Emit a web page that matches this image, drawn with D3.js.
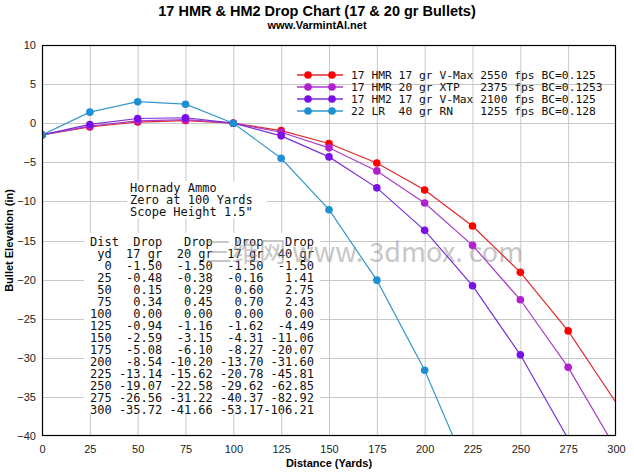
<!DOCTYPE html>
<html><head><meta charset="utf-8">
<script src="https://cdn.jsdelivr.net/npm/d3@7"></script>
<style>body{margin:0;background:#fff}svg{display:block}</style>
</head><body>
<script>
const distances = [0,25,50,75,100,125,150,175,200,225,250,275,300];
const hmr17 = [-1.50,-0.48,0.15,0.34,0.00,-0.94,-2.59,-5.08,-8.54,-13.14,-19.07,-26.56,-35.72];
const hmr20 = [-1.50,-0.38,0.29,0.45,0.00,-1.16,-3.15,-6.10,-10.20,-15.62,-22.58,-31.22,-41.66];
const hm2_17 = [-1.50,-0.16,0.60,0.70,0.00,-1.62,-4.31,-8.27,-13.70,-20.78,-29.62,-40.37,-53.17];
const lr22_40 = [-1.50,1.41,2.75,2.43,0.00,-4.49,-11.06,-20.07,-31.60,-45.81,-62.85,-82.92,-106.21];
const seriesNames = ["17 HMR 17 gr V-Max 2550 fps BC=0.125","17 HMR 20 gr XTP   2375 fps BC=0.1253","17 HM2 17 gr V-Max 2100 fps BC=0.125","22 LR  40 gr RN    1255 fps BC=0.128"];
const seriesColors = ["#ff0000","#b020d0","#7a10e8","#1f8fd4"];
const lineColors = ["#e02828","#a83cc8","#7a30d8","#3598cc"];
const xTicks = [0,25,50,75,100,125,150,175,200,225,250,275,300];
const yTicks = [10,5,0,-5,-10,-15,-20,-25,-30,-35,-40];
const notes = ["Hornady Ammo","Zero at 100 Yards","Scope Height 1.5\""];
const tableHeader = [["Dist","Drop","Drop","Drop","Drop"],["yd","17 gr","20 gr","17 gr","40 gr"]];

const W=634,H=475;
const m={l:42,r:18,t:45,b:39};
const svg=d3.select("body").append("svg").attr("width",W).attr("height",H);
const x=d3.scaleLinear().domain([0,300]).range([m.l,W-m.r]);
const y=d3.scaleLinear().domain([-40,10]).range([H-m.b,m.t]);

svg.append("defs").append("clipPath").attr("id","clip").append("rect")
  .attr("x",m.l).attr("y",m.t).attr("width",W-m.r-m.l).attr("height",H-m.b-m.t);

// grid
const g=svg.append("g");
g.selectAll(".vg").data(xTicks.slice(1,-1)).enter().append("line")
  .attr("x1",d=>x(d)+0.5).attr("x2",d=>x(d)+0.5).attr("y1",m.t).attr("y2",H-m.b)
  .attr("stroke","#c8c8c8").attr("stroke-width",1);
g.selectAll(".hg").data(yTicks.slice(1,-1)).enter().append("line")
  .attr("y1",d=>Math.round(y(d))+0.5).attr("y2",d=>Math.round(y(d))+0.5).attr("x1",m.l).attr("x2",W-m.r)
  .attr("stroke","#c8c8c8").attr("stroke-width",1);

// axes labels
const xa=svg.append("g").attr("transform",`translate(0,${H-m.b})`)
  .call(d3.axisBottom(x).tickValues(xTicks).tickSize(0).tickPadding(9));
xa.select(".domain").remove();
xa.selectAll("text").attr("font-family","Liberation Sans, Arial, sans-serif").attr("font-size",11).attr("fill","#222");
const ya=svg.append("g").attr("transform",`translate(${m.l},0)`)
  .call(d3.axisLeft(y).tickValues(yTicks).tickSize(0).tickPadding(6));
ya.select(".domain").remove();
ya.selectAll("text").attr("font-family","Liberation Sans, Arial, sans-serif").attr("font-size",11).attr("fill","#222");

// text boxes with white background
const mono="DejaVu Sans Mono, monospace";
const noteG=svg.append("g");
noteG.append("rect").attr("x",127).attr("y",181).attr("width",140).attr("height",37).attr("fill","#fff");
noteG.selectAll("text").data(notes).enter().append("text")
  .attr("x",130).attr("y",(d,i)=>192+i*12).attr("font-family",mono).attr("font-size",12)
  .attr("fill","#111").style("white-space","pre").text(d=>d);

const rows=tableHeader.map(r=>r[0].padStart(3)+(r[0].length>3?"  ":"   ").slice(0,0)+r.slice(1).map((c,i)=>c.padStart(i===0&&r[0].length>3?6:7)).join(""));
distances.forEach((d,i)=>{
  rows.push(String(d).padStart(3)+[hmr17[i],hmr20[i],hm2_17[i],lr22_40[i]].map(v=>v.toFixed(2).padStart(7)).join(""));
});
const tabG=svg.append("g");
tabG.append("rect").attr("x",84).attr("y",233).attr("width",236).attr("height",181).attr("fill","#fff");
tabG.selectAll("text").data(rows).enter().append("text")
  .attr("x",90).attr("y",(d,i)=>246+i*12).attr("font-family",mono).attr("font-size",12)
  .attr("fill","#111").attr("xml:space","preserve").style("white-space","pre").text(d=>d);

// watermark
svg.append("text").attr("x",205).attr("y",262).attr("font-family","Noto Sans CJK SC, serif")
  .attr("font-size",27).attr("fill","#999").attr("opacity",0.55).style("white-space","pre")
  .text("三维网 www. 3dmox. com");

// series
const allSeries=[hmr17,hmr20,hm2_17,lr22_40];
const plot=svg.append("g").attr("clip-path","url(#clip)");
const line=d3.line().x(d=>x(d[0])).y(d=>y(d[1]));
allSeries.forEach((s,k)=>{
  const pts=distances.map((d,i)=>[d,s[i]]);
  plot.append("path").datum(pts).attr("d",line).attr("fill","none")
    .attr("stroke",lineColors[k]).attr("stroke-width",1.2);
  plot.selectAll(".m"+k).data(pts.filter(p=>p[0]<300)).enter().append("circle")
    .attr("cx",p=>x(p[0])).attr("cy",p=>y(p[1])).attr("r",3.8).attr("fill",seriesColors[k]);
});

// frame
svg.append("rect").attr("x",m.l+0.5).attr("y",m.t+0.5).attr("width",W-m.r-m.l-1).attr("height",H-m.b-m.t-1)
  .attr("fill","none").attr("stroke","#000").attr("stroke-width",1.2);

// legend
const lg=svg.append("g");
seriesNames.forEach((n,k)=>{
  const yy=75+k*12;
  lg.append("line").attr("x1",297).attr("x2",343).attr("y1",yy).attr("y2",yy).attr("stroke",lineColors[k]).attr("stroke-width",1.4);
  [308,332].forEach(cx=>lg.append("circle").attr("cx",cx).attr("cy",yy).attr("r",3.8).attr("fill",seriesColors[k]));
  lg.append("text").attr("x",351).attr("y",yy+4).attr("font-family",mono).attr("font-size",11.3)
    .attr("fill","#111").style("white-space","pre").text(n);
});

// titles
svg.append("text").attr("x",317).attr("y",16).attr("text-anchor","middle")
  .attr("font-family","Liberation Sans, Arial, sans-serif").attr("font-weight","bold").attr("font-size",14.5)
  .text("17 HMR & HM2 Drop Chart (17 & 20 gr Bullets)");
svg.append("text").attr("x",317).attr("y",29).attr("text-anchor","middle")
  .attr("font-family","Liberation Sans, Arial, sans-serif").attr("font-weight","bold").attr("font-size",11)
  .text("www.VarmintAl.net");
svg.append("text").attr("x",329).attr("y",467).attr("text-anchor","middle")
  .attr("font-family","Liberation Sans, Arial, sans-serif").attr("font-weight","bold").attr("font-size",11)
  .text("Distance (Yards)");
svg.append("text").attr("transform",`translate(13,${(m.t+H-m.b)/2}) rotate(-90)`).attr("text-anchor","middle")
  .attr("font-family","Liberation Sans, Arial, sans-serif").attr("font-weight","bold").attr("font-size",11)
  .text("Bullet Elevation (in)");
</script>
</body></html>
